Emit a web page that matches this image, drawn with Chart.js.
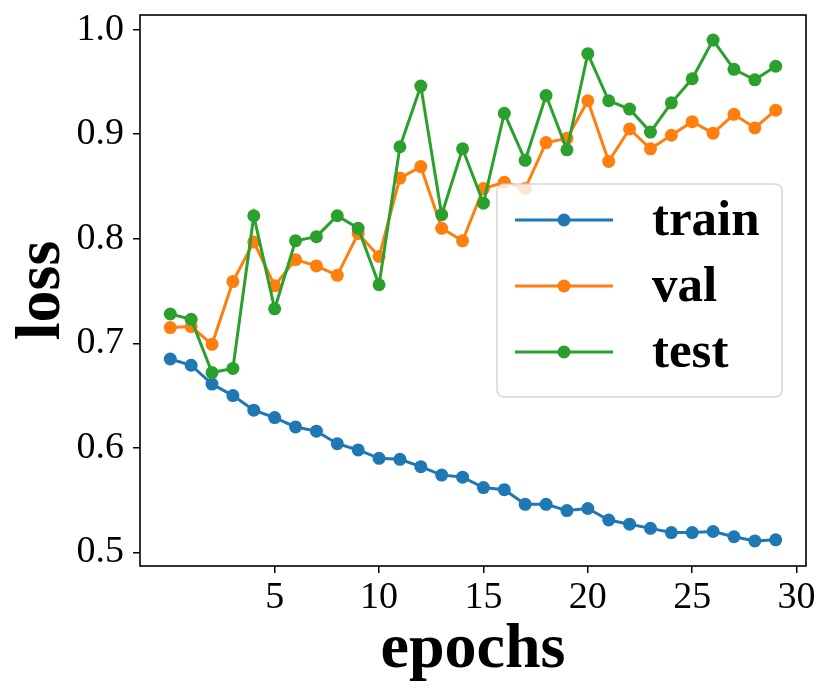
<!DOCTYPE html>
<html>
<head>
<meta charset="utf-8">
<script src="https://cdn.jsdelivr.net/npm/chart.js@4.4.1/dist/chart.umd.min.js"></script>
<style>
  body { margin: 0; background: #fff; }
  #lossChart { display: block; }
</style>
</head>
<body>
<canvas id="lossChart" width="831" height="694"></canvas>
<script>
// values
const epochs = [0, 1, 2, 3, 4, 5, 6, 7, 8, 9, 10, 11, 12, 13, 14, 15, 16, 17, 18, 19, 20, 21, 22, 23, 24, 25, 26, 27, 28, 29];
const trainLoss = [0.685, 0.679, 0.661, 0.650, 0.636, 0.629, 0.620, 0.616, 0.604, 0.598, 0.590, 0.589, 0.582, 0.574, 0.572, 0.562, 0.560, 0.546, 0.546, 0.540, 0.542, 0.531, 0.527, 0.523, 0.519, 0.519, 0.520, 0.515, 0.511, 0.512];
const valLoss = [0.715, 0.716, 0.699, 0.759, 0.797, 0.755, 0.780, 0.774, 0.765, 0.805, 0.783, 0.858, 0.869, 0.810, 0.798, 0.848, 0.854, 0.848, 0.892, 0.896, 0.932, 0.874, 0.905, 0.886, 0.899, 0.912, 0.901, 0.919, 0.906, 0.923];
const testLoss = [0.728, 0.723, 0.672, 0.676, 0.822, 0.733, 0.798, 0.802, 0.822, 0.810, 0.756, 0.888, 0.946, 0.823, 0.886, 0.834, 0.920, 0.875, 0.937, 0.885, 0.977, 0.932, 0.924, 0.902, 0.930, 0.953, 0.990, 0.962, 0.952, 0.965];
const seriesNames = ["train", "val", "test"];
const xTicks = [5, 10, 15, 20, 25, 30];
const yTicks = [0.5, 0.6, 0.7, 0.8, 0.9, 1.0];

const colors = ["#1f77b4", "#ff7f0e", "#2ca02c"];
const serif = "'Liberation Serif', 'DejaVu Serif', serif";

function toPoints(ys) {
  return ys.map((v, i) => ({ x: epochs[i], y: v }));
}

function makeSet(i, ys) {
  return {
    label: seriesNames[i],
    data: toPoints(ys),
    borderColor: colors[i],
    backgroundColor: colors[i],
    borderWidth: 3,
    pointRadius: 6.5,
    pointBorderWidth: 0,
    pointBackgroundColor: colors[i],
    tension: 0,
    order: 3 - i, // test on top, like matplotlib
  };
}

// black frame round the plot area (top + right spines too)
const frame = {
  id: "frame",
  afterDatasetsDraw(chart) {
    const a = chart.chartArea;
    const ctx = chart.ctx;
    ctx.save();
    ctx.strokeStyle = "#000";
    ctx.lineWidth = 1.6;
    ctx.strokeRect(a.left, a.top, a.right - a.left, a.bottom - a.top);
    ctx.restore();
  },
};

// matplotlib-style legend box inside the axes
const boxLegend = {
  id: "boxLegend",
  afterDatasetsDraw(chart) {
    const ctx = chart.ctx;
    const x0 = 497, y0 = 184, w = 285, h = 213;
    ctx.save();
    ctx.beginPath();
    ctx.roundRect(x0, y0, w, h, 7);
    ctx.fillStyle = "rgba(255,255,255,0.8)";
    ctx.fill();
    ctx.lineWidth = 1.5;
    ctx.strokeStyle = "rgba(204,204,204,0.8)";
    ctx.stroke();

    chart.data.datasets.forEach((ds, i) => {
      const cy = 220 + i * 66;
      ctx.strokeStyle = ds.borderColor;
      ctx.lineWidth = 3;
      ctx.beginPath();
      ctx.moveTo(515, cy);
      ctx.lineTo(613, cy);
      ctx.stroke();
      ctx.fillStyle = ds.borderColor;
      ctx.beginPath();
      ctx.arc(564, cy, 6.5, 0, Math.PI * 2);
      ctx.fill();

      ctx.fillStyle = "#000";
      ctx.font = "bold 51px " + serif;
      ctx.textBaseline = "alphabetic";
      ctx.textAlign = "left";
      ctx.fillText(ds.label, 652, cy + 15);
    });
    ctx.restore();
  },
};

new Chart(document.getElementById("lossChart"), {
  type: "line",
  data: {
    datasets: [makeSet(0, trainLoss), makeSet(1, valLoss), makeSet(2, testLoss)],
  },
  options: {
    responsive: false,
    animation: false,
    devicePixelRatio: 1,
    layout: { padding: { top: 15, right: 25, left: 0, bottom: 0 } },
    plugins: {
      legend: { display: false },
      tooltip: { enabled: false },
    },
    scales: {
      x: {
        type: "linear",
        min: -1.45,
        max: 30.45,
        afterBuildTicks: (s) => { s.ticks = xTicks.map((v) => ({ value: v })); },
        afterFit: (s) => { s.height = 128; s.paddingLeft = 0; s.paddingRight = 0; },
        grid: { drawOnChartArea: false, drawTicks: true, tickLength: 7, color: "#000", lineWidth: 1.5 },
        border: { display: false },
        ticks: {
          color: "#000",
          padding: 2,
          maxRotation: 0,
          autoSkip: false,
          font: { family: serif, size: 38 },
          callback: (v) => String(v),
        },
        title: {
          display: true,
          text: "epochs",
          color: "#000",
          font: { family: serif, size: 64, weight: "bold" },
          padding: { top: 0, bottom: 5 },
        },
      },
      y: {
        min: 0.487,
        max: 1.014,
        afterBuildTicks: (s) => { s.ticks = yTicks.map((v) => ({ value: v })); },
        afterFit: (s) => { s.width = 140; s.paddingTop = 0; s.paddingBottom = 0; },
        grid: { drawOnChartArea: false, drawTicks: true, tickLength: 7, color: "#000", lineWidth: 1.5 },
        border: { display: false },
        ticks: {
          color: "#000",
          padding: 9,
          autoSkip: false,
          font: { family: serif, size: 38 },
          callback: (v) => v.toFixed(1),
        },
        title: {
          display: true,
          text: "loss",
          color: "#000",
          font: { family: serif, size: 64, weight: "bold" },
          padding: { top: 4, bottom: 0 },
        },
      },
    },
  },
  plugins: [frame, boxLegend],
});
</script>
</body>
</html>
